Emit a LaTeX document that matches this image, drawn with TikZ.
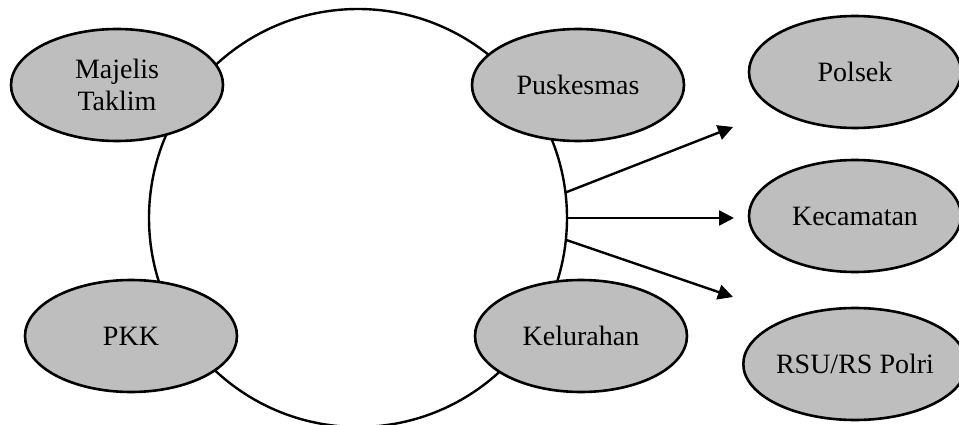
\documentclass[tikz,border=0pt]{standalone}
\usepackage{fontspec}
\setmainfont{Liberation Serif}
\usetikzlibrary{shapes.geometric,arrows.meta}
\definecolor{nodegray}{RGB}{190,190,190}
\begin{document}
\begin{tikzpicture}[x=1pt,y=-1pt,
  hub/.style={circle,draw,line width=2.4pt,minimum size=418pt,inner sep=0pt,outer sep=0pt},
  bubble/.style={ellipse,draw,line width=2.6pt,fill=nodegray,inner sep=0pt,outer sep=0pt,
    minimum width=212pt,minimum height=112pt,align=center,
    font=\fontsize{28}{32}\selectfont},
  link/.style={line width=2.4pt,-{Triangle[length=15pt,width=15pt]}}]
  \useasboundingbox (0,0) rectangle (959,425);

  % central ring and the partners placed on it
  \node[hub] (ring) at (358,218) {};
  \node[bubble] (majelis) at (117,85) {Majelis\\Taklim};
  \node[bubble] (puskesmas) at (578,85) {Puskesmas};
  \node[bubble] (pkk) at (131,336) {PKK};
  \node[bubble] (kelurahan) at (581,336) {Kelurahan};

  % referral targets
  \node[bubble] (polsek) at (855,72) {Polsek};
  \node[bubble] (kecamatan) at (855,216) {Kecamatan};
  \node[bubble] (rsu) at (855,364) {RSU/RS Polri};

  % arrow ends
  \coordinate (toPolsek) at (733,127);
  \coordinate (toKecamatan) at (734,220);
  \coordinate (toRsu) at (733,297);

  \draw[link] (ring.7.7) -- (toPolsek);
  \draw[link] (ring.-0.5) -- (ring.-0.5 -| toKecamatan);
  \draw[link] (ring.-6.9) -- (toRsu);
\end{tikzpicture}
\end{document}
